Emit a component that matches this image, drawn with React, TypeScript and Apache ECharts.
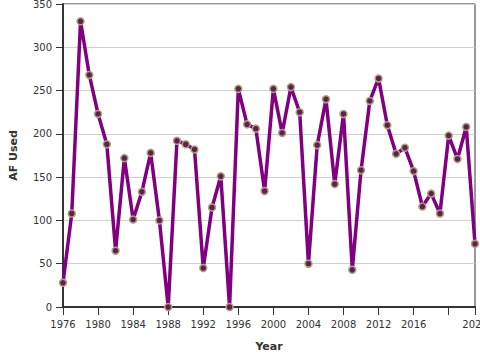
import React, { useEffect, useRef } from "react";
import * as echarts from "echarts";

const years: number[] = [
  1976, 1977, 1978, 1979, 1980, 1981, 1982, 1983, 1984, 1985, 1986, 1987,
  1988, 1989, 1990, 1991, 1992, 1993, 1994, 1995, 1996, 1997, 1998, 1999,
  2000, 2001, 2002, 2003, 2004, 2005, 2006, 2007, 2008, 2009, 2010, 2011,
  2012, 2013, 2014, 2015, 2016, 2017, 2018, 2019, 2020, 2021, 2022, 2023,
];

const afUsed: number[] = [
  28, 108, 330, 268, 223, 188, 65, 172, 101, 133, 178, 100,
  0, 192, 188, 182, 45, 115, 151, 0, 252, 211, 206, 134,
  252, 201, 254, 225, 50, 187, 240, 142, 223, 43, 158, 238,
  264, 210, 177, 184, 157, 116, 131, 108, 198, 171, 208, 73,
];

const hiddenXLabels: number[] = [2020];

export default function App() {
  const ref = useRef<HTMLDivElement>(null);
  useEffect(() => {
    if (!ref.current) return;
    const chart = echarts.init(ref.current, undefined, { renderer: "svg" });
    const font = "DejaVu Sans";
    chart.setOption({
      animation: false,
      backgroundColor: "#ffffff",
      grid: {
        left: 63,
        right: 5,
        top: 4,
        bottom: 53,
        show: true,
        borderColor: "#333",
        borderWidth: 1,
        backgroundColor: "transparent",
        containLabel: false,
        outerBoundsMode: "none",
      },
      xAxis: {
        type: "value",
        min: 1976,
        max: 2023,
        interval: 4,
        name: "Year",
        nameLocation: "middle",
        nameGap: 34,
        nameTextStyle: { fontFamily: font, fontSize: 11, fontWeight: "bold", color: "#333" },
        axisLine: { show: true, lineStyle: { color: "#333", width: 2 } },
        axisTick: { show: true, length: 8, lineStyle: { color: "#333", width: 1 } },
        axisLabel: {
          fontFamily: font,
          fontSize: 10,
          color: "#333",
          margin: 12,
          showMinLabel: true,
          showMaxLabel: true,
          formatter: (v: number) => (hiddenXLabels.includes(v) ? "" : String(v)),
        },
        splitLine: { show: false },
      },
      yAxis: {
        type: "value",
        min: 0,
        max: 350,
        interval: 50,
        name: "AF Used",
        nameLocation: "middle",
        nameGap: 44,
        nameTextStyle: { fontFamily: font, fontSize: 11, fontWeight: "bold", color: "#333" },
        axisLine: { show: true, lineStyle: { color: "#333", width: 2 } },
        axisTick: { show: true, length: 7, lineStyle: { color: "#333", width: 1 } },
        axisLabel: { fontFamily: font, fontSize: 10, color: "#333", margin: 11 },
        splitLine: { show: true, lineStyle: { color: "#d0d0d0", width: 1 } },
      },
      series: [
        {
          type: "line",
          data: years.map((y, i) => [y, afUsed[i]]),
          lineStyle: { color: "#800080", width: 3.5 },
          symbol: "circle",
          symbolSize: 7,
          itemStyle: { color: "#5e1f55", borderColor: "#b0a07c", borderWidth: 1.5 },
          clip: false,
        },
      ],
    });
    return () => chart.dispose();
  }, []);
  return (
    <div
      ref={ref}
      style={{ position: "fixed", left: 0, top: 0, width: 480, height: 360 }}
    />
  );
}
